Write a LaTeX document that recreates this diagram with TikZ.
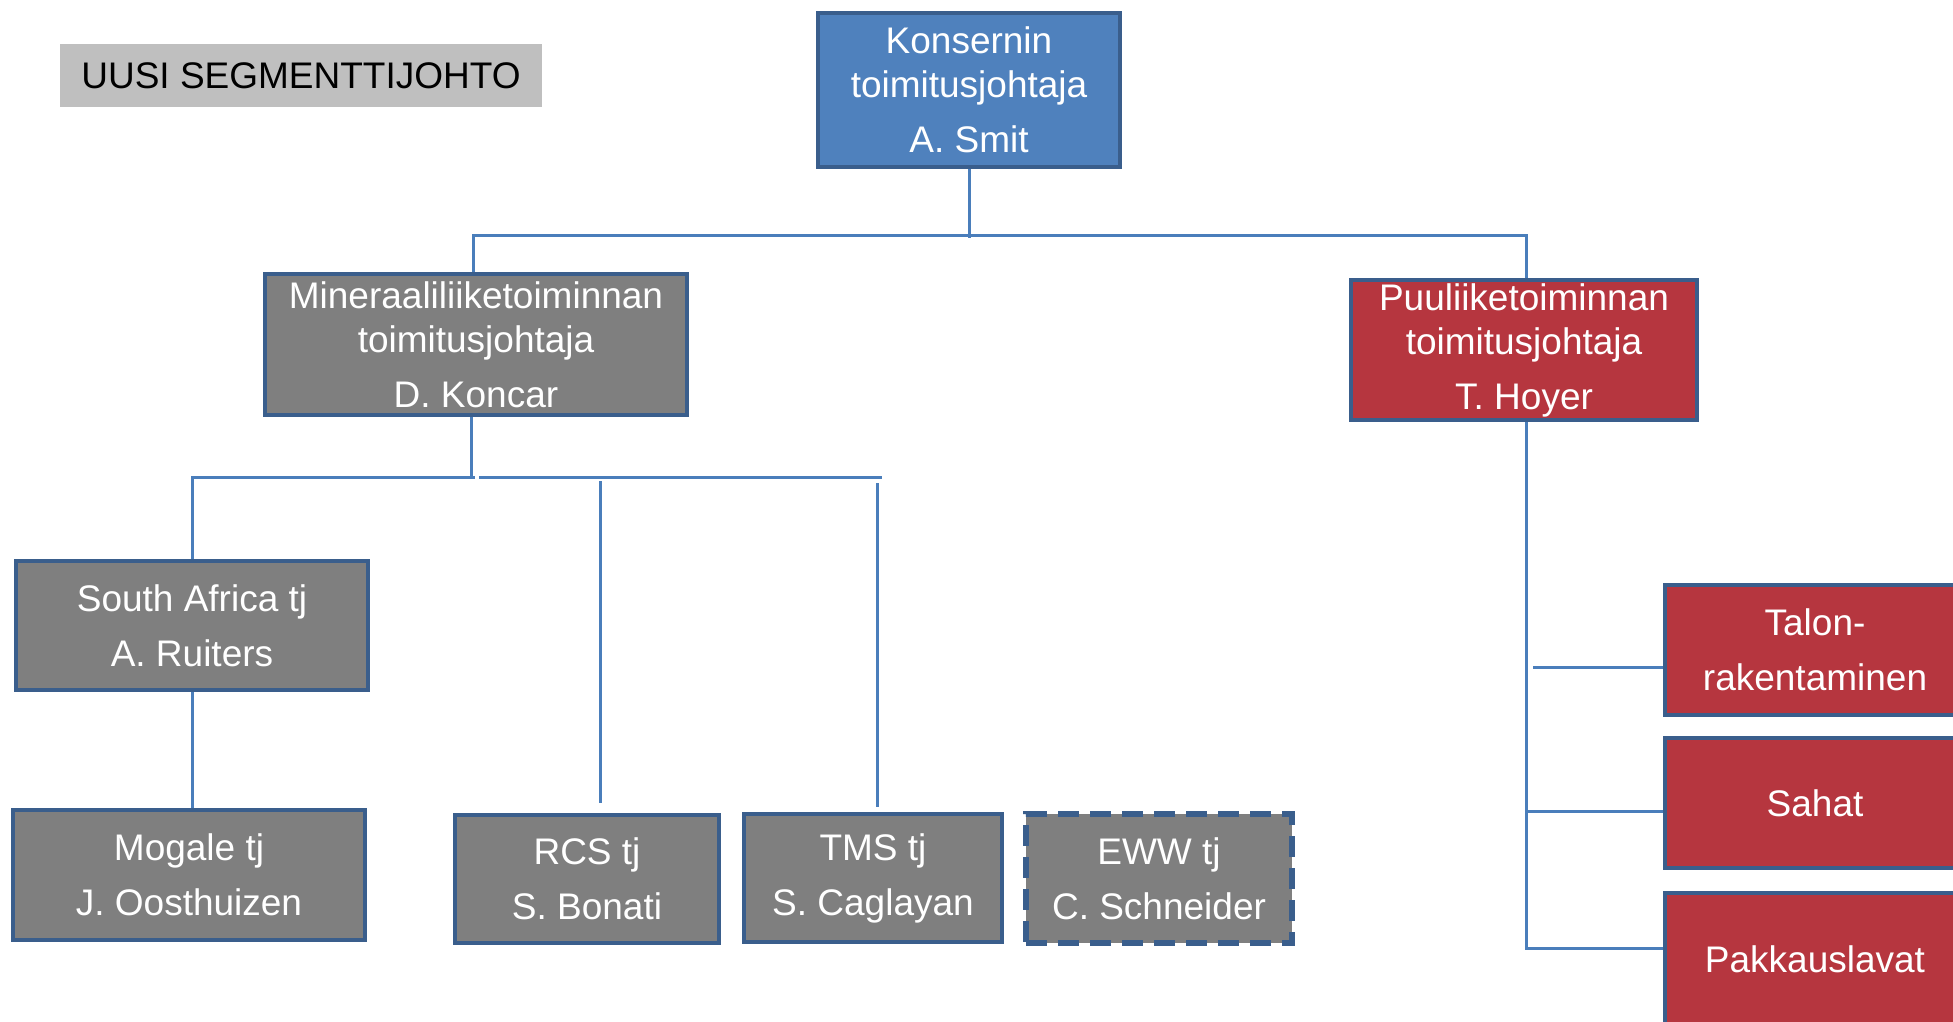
\documentclass[tikz,border=0pt]{standalone}
\usepackage{fontspec}
\setmainfont{Liberation Sans}
\definecolor{bluec}{HTML}{4F81BD}
\definecolor{bordc}{HTML}{3A5E8C}
\definecolor{grayc}{HTML}{7F7F7F}
\definecolor{redc}{HTML}{B6363F}
\definecolor{linec}{HTML}{4A7EBB}
\definecolor{lgray}{HTML}{BFBFBF}
\tikzset{
  box/.style={draw=bordc, line width=4.5pt, text=white, align=center, inner sep=0pt,
    font=\fontsize{37pt}{44pt}\selectfont},
  graybox/.style={box, fill=grayc},
  redbox/.style={box, fill=redc},
  bluebox/.style={box, fill=bluec},
  dashbox/.style={graybox, dash pattern=on 21pt off 11pt, line width=6.5pt},
  conn/.style={draw=linec, line width=3pt},
}
\begin{document}
\begin{tikzpicture}[x=1pt,y=-1pt]
\useasboundingbox (0,0) rectangle (1953,1021);
\fill[white] (0,0) rectangle (1953,1021);

\node[fill=lgray, minimum width=482pt, minimum height=63pt, inner sep=0pt,
  font=\fontsize{37pt}{44pt}\selectfont] (uusi) at (301,75.5) {UUSI SEGMENTTIJOHTO};

\node[bluebox, minimum width=302pt, minimum height=154pt] (ceo) at (969,90)
  {Konsernin\\toimitusjohtaja\\[11pt]A. Smit};
\node[graybox, minimum width=422pt, minimum height=141pt] (min) at (476,344.5)
  {Mineraaliliiketoiminnan\\toimitusjohtaja\\[11pt]D. Koncar};
\node[redbox, minimum width=346pt, minimum height=140pt] (puu) at (1524,350)
  {Puuliiketoiminnan\\toimitusjohtaja\\[11pt]T. Hoyer};

\node[graybox, minimum width=352pt, minimum height=129pt] (sa) at (192,625.5)
  {South Africa tj\\[11pt]A. Ruiters};
\node[graybox, minimum width=352pt, minimum height=130pt] (mog) at (189,875)
  {Mogale tj\\[11pt]J. Oosthuizen};
\node[graybox, minimum width=264pt, minimum height=128pt] (rcs) at (587,879)
  {RCS tj\\[11pt]S. Bonati};
\node[graybox, minimum width=258pt, minimum height=128pt] (tms) at (873,878)
  {TMS tj\\[11pt]S. Caglayan};
\node[dashbox, minimum width=266pt, minimum height=129pt] (eww) at (1159,878.5)
  {EWW tj\\[11pt]C. Schneider};

\node[redbox, minimum width=300pt, minimum height=130pt] (talon) at (1815,650)
  {Talon-\\[11pt]rakentaminen};
\node[redbox, minimum width=300pt, minimum height=130pt] (sahat) at (1815,803)
  {Sahat};
\node[redbox, minimum width=300pt, minimum height=132pt] (pakk) at (1815,959)
  {Pakkauslavat};

% top level bus
\coordinate (busA) at (0,235);
\draw[conn] (ceo.south) -- ([yshift=-3pt]ceo.south |- busA);
\draw[conn] ([xshift=-3pt]min.north) -- ([xshift=-3pt]min.north |- busA)
  -- ([xshift=2pt]puu.north |- busA) -- ([xshift=2pt]puu.north);

% mineral bus
\coordinate (busB) at (0,477);
\draw[conn] ([xshift=-5pt]min.south) -- ([xshift=-5pt,yshift=-2pt]min.south |- busB);
\draw[conn] (sa.north) -- (sa.north |- busB) -- ([xshift=-1pt]min.south |- busB);
\draw[conn] ([xshift=3pt]min.south |- busB) -- ([xshift=9pt]tms.north |- busB);
\draw[conn] ([xshift=13pt,yshift=-4pt]rcs.north |- busB) -- ([xshift=13pt,yshift=10pt]rcs.north);
\draw[conn] ([xshift=4pt,yshift=-6pt]tms.north |- busB) -- ([xshift=4pt,yshift=5pt]tms.north);
\draw[conn] (sa.south) -- (sa.south |- mog.north);

% wood branch
\coordinate (rb) at (1526,948);
\draw[conn] ([xshift=2pt]puu.south) -- (rb) -- (rb -| pakk.west);
\draw[conn] ([yshift=-8pt]sahat.west) -- ([yshift=-8pt]sahat.west -| rb);
\draw[conn] ([yshift=-17pt]talon.west) -- ([xshift=7pt,yshift=-17pt]talon.west -| rb);
\end{tikzpicture}
\end{document}
